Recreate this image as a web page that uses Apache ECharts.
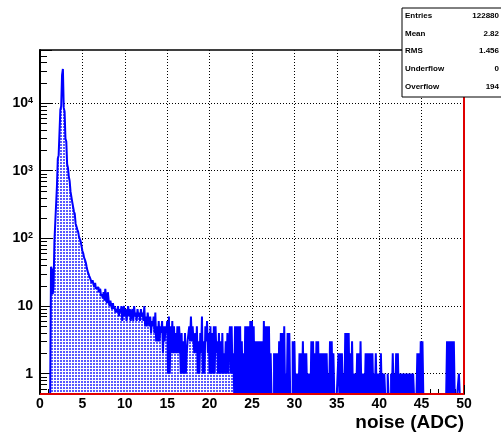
<!DOCTYPE html>
<html>
<head>
<meta charset="utf-8">
<script src="https://cdn.jsdelivr.net/npm/echarts@6/dist/echarts.min.js"></script>
<style>
html, body { margin: 0; padding: 0; background: #fff; }
#main { width: 501px; height: 437px; }
</style>
</head>
<body>
<div id="main"></div>
<script>
// histogram: 500 bins of 0.1 ADC from 0 to 50 (one row = one unit)
var binWidth = 0.1;
var counts = [
  0,0,0,0,0,0,0,0,0,0,
  0,0,0,38,35,15,20,90,170,180,
  600,1500,1700,1800,8000,9000,26000,32000,8500,7500,
  3000,2700,1250,1100,820,700,490,460,345,330,
  250,230,165,150,135,125,105,100,90,85,
  65,60,52,48,44,38,33,35,28,26,
  27,22,24,21,19,22,18,17,19,16,
  15,18,14,15,13,16,12,18,13,11,
  16,12,10,12,10,9,11,9,10,8,
  9,8,10,7,9,8,10,6,9,10,
  7,9,6,8,10,7,9,6,8,9,
  6,10,7,8,6,9,7,8,6,9,
  7,8,6,10,5,7,5,8,6,5,
  7,4,6,5,7,4,8,3,5,3,
  6,3,5,4,6,2,5,3,5,4,
  6,1,7,1,5,2,6,2,5,2,
  4,2,5,2,5,3,1,4,1,3,
  1,4,1,2,3,3,5,3,7,3,
  5,3,2,4,2,5,1,3,1,4,
  2,7,1,3,1,5,3,6,2,4,
  1,5,1,4,1,5,1,5,2,3,
  1,4,1,3,1,4,1,2,1,3,
  1,4,1,3,5,1,5,1,2,0,
  5,0,5,0,5,0,5,0,3,0,
  2,0,5,0,5,0,5,0,6,0,
  6,0,5,0,3,0,3,0,3,0,
  3,0,3,0,6,0,5,0,5,0,
  5,0,2,0,0,0,2,0,2,0,
  2,0,3,0,4,0,4,0,5,0,
  1,0,4,0,4,0,0,0,3,0,
  3,0,1,0,1,0,2,0,2,0,
  3,0,2,0,2,0,1,0,1,0,
  3,0,3,0,2,0,3,0,3,0,
  2,0,2,0,2,0,2,0,2,0,
  1,0,3,0,3,0,2,0,0,0,
  0,0,2,0,2,0,2,0,1,0,
  4,0,4,0,4,0,2,0,3,0,
  1,0,1,0,2,0,2,0,3,0,
  1,0,1,0,2,0,2,0,2,0,
  2,0,2,0,1,0,2,0,1,0,
  1,0,2,0,1,0,1,0,0,0,
  1,0,0,0,1,0,2,0,1,0,
  2,0,2,0,1,0,1,0,1,0,
  1,0,1,0,1,0,1,0,1,0,
  1,0,0,0,0,2,0,2,0,3,
  0,3,0,0,0,0,0,0,0,0,
  0,0,0,0,0,0,0,0,0,0,
  0,0,0,0,0,0,0,0,0,0,
  3,0,3,0,3,0,3,0,3,0,
  0,0,0,0,1,0,0,0,0,0
];
var yMinorTicks = [
  0.6, 0.7, 0.8, 0.9,
  2, 3, 4, 5, 6, 7, 8, 9,
  20, 30, 40, 50, 60, 70, 80, 90,
  200, 300, 400, 500, 600, 700, 800, 900,
  2000, 3000, 4000, 5000, 6000, 7000, 8000, 9000,
  20000, 30000, 40000, 50000, 60000
];
var statNames = ['Entries', 'Mean', 'RMS', 'Underflow', 'Overflow'];
var statValues = ['122880', '2.82', '1.456', '0', '194'];
var yMin = 0.5;
var yMax = 61000;

var chart = echarts.init(document.getElementById('main'));

// dotted fill like ROOT fill style
var tile = document.createElement('canvas');
tile.width = 3;
tile.height = 3;
var tctx = tile.getContext('2d');
tctx.fillStyle = '#ffffff';
tctx.fillRect(0, 0, 3, 3);
tctx.fillStyle = '#5a5aff';
tctx.fillRect(0, 0, 2, 2);

// empty bins sit on the axis floor (log scale)
var histData = [];
for (var i = 0; i < counts.length; i++) {
  histData.push([i * binWidth, counts[i] > 0 ? counts[i] : yMin]);
}
histData.push([counts.length * binWidth, histData[histData.length - 1][1]]);

var minorData = yMinorTicks.map(function (v) { return [0, v]; });

function yLabel(v) {
  var e = Math.round(Math.log(v) / Math.LN10);
  if (Math.abs(v - Math.pow(10, e)) > 1e-6 * Math.pow(10, e)) return '';
  if (e === 0) return '1';
  if (e === 1) return '10';
  return '{b|10}{e|' + e + '}';
}

var font = 'Liberation Sans';
var stats = [{
  type: 'rect', z: 100,
  shape: { x: 402, y: 8, width: 120, height: 89 },
  style: { fill: '#fff', stroke: '#000', lineWidth: 1 }
}];
for (var k = 0; k < statNames.length; k++) {
  var ty = 16 + k * 17.6;
  stats.push({ type: 'text', z: 101, style: { text: statNames[k], x: 405, y: ty, fill: '#000',
    font: 'bold 8px "' + font + '"', align: 'left', verticalAlign: 'middle' } });
  stats.push({ type: 'text', z: 101, style: { text: statValues[k], x: 499, y: ty, fill: '#000',
    font: 'bold 8px "' + font + '"', align: 'right', verticalAlign: 'middle' } });
}

var option = {
  animation: false,
  grid: { left: 40, right: 37, top: 50, bottom: 43 },
  xAxis: [{
    type: 'value', min: 0, max: 50, interval: 5,
    axisLine: { lineStyle: { color: '#000', width: 1 } },
    axisTick: { inside: true, length: 9, lineStyle: { color: '#000' } },
    minorTick: { show: true, splitNumber: 5, length: 5, lineStyle: { color: '#000' } },
    axisLabel: { color: '#000', fontFamily: font, fontWeight: 'bold', fontSize: 14, margin: 3 },
    splitLine: { show: true, showMinLine: false, showMaxLine: false,
      lineStyle: { type: [1, 2], color: '#000' } },
    name: 'noise (ADC)', nameLocation: 'end', nameGap: 0,
    nameTextStyle: { color: '#000', fontFamily: font, fontWeight: 'bold', fontSize: 19,
      align: 'right', verticalAlign: 'top', padding: [19, 0, 0, 0] }
  }, {
    type: 'value', position: 'top', min: 0, max: 50,
    axisLine: { show: true, onZero: false, lineStyle: { color: '#000', width: 1.5 } },
    axisTick: { show: false }, axisLabel: { show: false }, splitLine: { show: false }
  }],
  yAxis: [{
    type: 'log', logBase: 10, min: yMin, max: yMax, position: 'left',
    axisLine: { show: true, onZero: false, lineStyle: { color: '#000', width: 2 } },
    axisTick: { inside: true, length: 12, lineStyle: { color: '#000' } },
    axisLabel: {
      formatter: yLabel, color: '#000', fontFamily: font, fontWeight: 'bold', fontSize: 14, margin: 7,
      rich: {
        b: { fontFamily: font, fontWeight: 'bold', fontSize: 14, color: '#000' },
        e: { fontFamily: font, fontWeight: 'bold', fontSize: 9, color: '#000', verticalAlign: 'top' }
      }
    },
    splitLine: { show: true, showMinLine: false, showMaxLine: false,
      lineStyle: { type: [1, 2], color: '#000' } }
  }, {
    type: 'log', logBase: 10, min: yMin, max: yMax, position: 'right',
    axisLine: { show: true, onZero: false, lineStyle: { color: '#e00000', width: 2 } },
    axisTick: { show: false }, axisLabel: { show: false }, splitLine: { show: false }
  }],
  series: [{
    name: 'noise', type: 'line', step: 'end',
    data: histData, showSymbol: false, symbol: 'none', clip: true,
    lineStyle: { color: '#0000ff', width: 2 },
    areaStyle: { origin: 'start', color: { image: tile, repeat: 'repeat' }, opacity: 1 },
    markLine: {
      silent: true, symbol: 'none', label: { show: false },
      lineStyle: { color: '#e00000', width: 2, type: 'solid' },
      data: [{ yAxis: yMin }]
    }
  }, {
    // log minor ticks at 2..9 of each decade
    name: 'yMinor', type: 'custom', silent: true, z: 5,
    data: minorData,
    renderItem: function (params, api) {
      var p = api.coord([api.value(0), api.value(1)]);
      return {
        type: 'line',
        shape: { x1: p[0], y1: Math.round(p[1]) + 0.5, x2: p[0] + 7, y2: Math.round(p[1]) + 0.5 },
        style: { stroke: '#000', lineWidth: 1 }
      };
    }
  }],
  graphic: stats
};
chart.setOption(option);
</script>
</body>
</html>
